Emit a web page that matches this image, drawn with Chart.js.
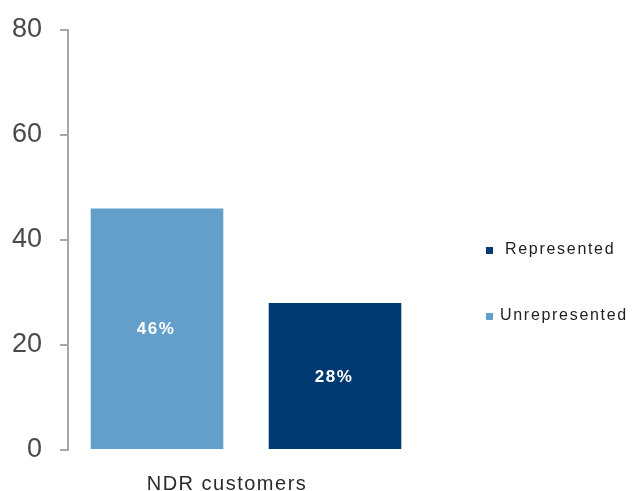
<!DOCTYPE html>
<html>
<head>
<meta charset="utf-8">
<script src="https://cdn.jsdelivr.net/npm/chart.js@4/dist/chart.umd.min.js"></script>
<style>
  html, body { margin: 0; padding: 0; background: #ffffff; }
  #wrap { width: 632px; height: 491px; position: relative; }
</style>
</head>
<body>
<div id="wrap"><canvas id="chart"></canvas></div>
<script>
// Share of customers, by representation status (percent)
const categories = ['NDR customers'];
const seriesNames = ['Unrepresented', 'Represented'];
const unrepresented = [46];
const represented = [28];
const seriesColors = ['#639fca', '#003a70'];
const yTicks = [0, 20, 40, 60, 80];
const legendOrder = [1, 0]; // Represented listed first

// Value labels centred inside each bar, e.g. "46%"
const barValueLabels = {
  id: 'barValueLabels',
  afterDatasetsDraw(chart) {
    const ctx = chart.ctx;
    ctx.save();
    ctx.font = 'bold 17px "Liberation Sans", Arial, sans-serif';
    ctx.fillStyle = '#ffffff';
    ctx.textAlign = 'center';
    ctx.textBaseline = 'middle';
    ctx.letterSpacing = '1.5px';
    chart.data.datasets.forEach((ds, i) => {
      chart.getDatasetMeta(i).data.forEach((bar, j) => {
        const v = ds.data[j];
        ctx.fillText(v + '%', bar.x - 1, (bar.y + bar.base) / 2 + 1);
      });
    });
    ctx.restore();
  }
};

// Category name under the bars, with loose letter spacing
const categoryLabels = {
  id: 'categoryLabels',
  afterDraw(chart) {
    const ctx = chart.ctx;
    const xs = chart.scales.x;
    ctx.save();
    ctx.font = '20px "Liberation Sans", Arial, sans-serif';
    ctx.fillStyle = '#2a2a2a';
    ctx.textAlign = 'center';
    ctx.textBaseline = 'alphabetic';
    ctx.letterSpacing = '1.5px';
    categories.forEach((c, i) => {
      ctx.fillText(c, xs.getPixelForValue(i) - 19, xs.top + 40);
    });
    ctx.restore();
  }
};

// Legend on the right, squares with labels spaced apart vertically
const sideLegend = {
  id: 'sideLegend',
  afterDraw(chart) {
    const ctx = chart.ctx;
    const area = chart.chartArea;
    const x0 = area.right + 62;
    const rows = [250, 316];
    ctx.save();
    ctx.font = '16px "Liberation Sans", Arial, sans-serif';
    ctx.textBaseline = 'middle';
    ctx.textAlign = 'left';
    ctx.letterSpacing = '1.7px';
    legendOrder.forEach((dsIndex, r) => {
      const ds = chart.data.datasets[dsIndex];
      const y = rows[r];
      ctx.fillStyle = ds.backgroundColor;
      ctx.fillRect(x0, y - 3, 7, 7);
      ctx.fillStyle = '#222222';
      ctx.fillText(ds.label, x0 + (r === 0 ? 19 : 14), y);
    });
    ctx.restore();
  }
};

new Chart(document.getElementById('chart'), {
  type: 'bar',
  data: {
    labels: categories,
    datasets: [
      { label: seriesNames[0], data: unrepresented, backgroundColor: seriesColors[0] },
      { label: seriesNames[1], data: represented, backgroundColor: seriesColors[1] }
    ]
  },
  options: {
    responsive: true,
    maintainAspectRatio: false,
    animation: false,
    categoryPercentage: 1.0,
    barPercentage: 0.745,
    layout: { padding: { top: 30, right: 208, left: 0, bottom: 0 } },
    plugins: {
      legend: { display: false },
      tooltip: { enabled: false }
    },
    scales: {
      x: {
        grid: { display: false },
        border: { display: false },
        ticks: { display: false },
        afterFit(scale) { scale.height = 41; }
      },
      y: {
        min: yTicks[0],
        max: yTicks[yTicks.length - 1],
        afterBuildTicks(scale) { scale.ticks = yTicks.map(v => ({ value: v })); },
        grid: { drawOnChartArea: false, drawTicks: true, tickLength: 8, color: '#a8a8a8', lineWidth: 2 },
        border: { display: true, color: '#a8a8a8', width: 2 },
        ticks: {
          color: '#4a4a4a',
          padding: 18,
          font: { family: '"Liberation Sans", Arial, sans-serif', size: 27 }
        },
        afterFit(scale) {
          scale.width = 68;
          scale.paddingTop = 0;
          scale.paddingBottom = 0;
        }
      }
    }
  },
  plugins: [barValueLabels, categoryLabels, sideLegend]
});
</script>
</body>
</html>
